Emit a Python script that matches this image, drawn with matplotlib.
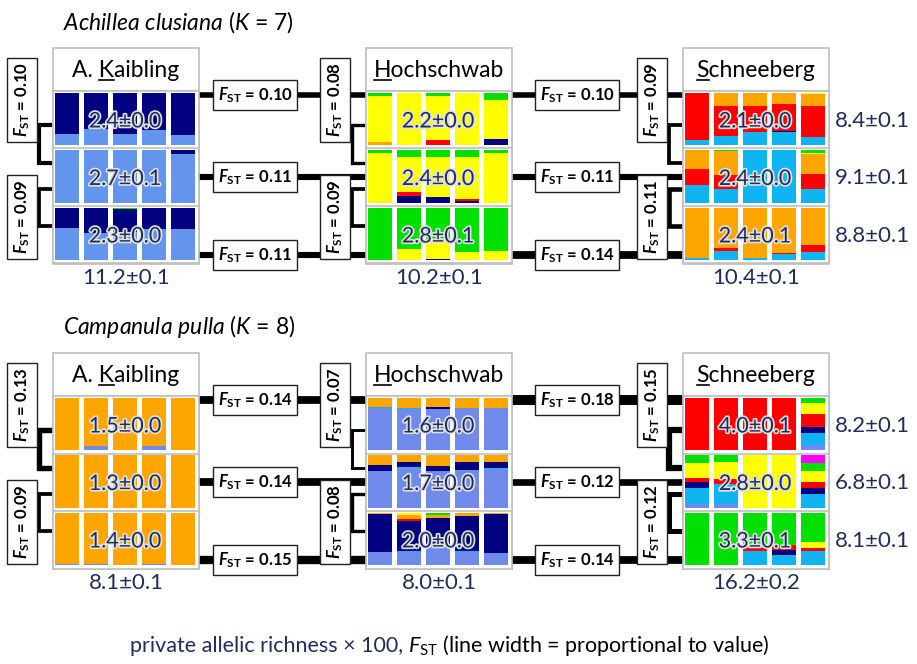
import numpy as np
import matplotlib.pyplot as plt
from matplotlib.patches import Rectangle
import matplotlib.patheffects as pe

plt.rcParams['font.family'] = ['Lato', 'DejaVu Sans']
plt.rcParams['mathtext.fontset'] = 'custom'
plt.rcParams['mathtext.rm'] = 'Lato'
plt.rcParams['mathtext.it'] = 'Lato:italic'
plt.rcParams['mathtext.bf'] = 'Lato:bold'
plt.rcParams['mathtext.bfit'] = 'Lato:italic:bold'

# ---- data -------------------------------------------------------------
sites = ['A. Kaibling', 'Hochschwab', 'Schneeberg']
site_key = [3, 0, 0]   # index of the underlined letter

# cluster colours, in stacking order from top to bottom of each bar
ach_colors = ['#00e000', '#ffff00', '#ffa500', '#ff0000', '#000080', '#10b4f0', '#6495ed']
cam_colors = ['#ff00ff', '#00e000', '#ffff00', '#ffa500', '#ff0000', '#000080', '#10b4f0', '#6f8aea']

# Achillea clusiana, K = 7 (rows = populations, 5 individuals each)
ach_kaibling = [
    [[0, 0, 0, 0, .79, 0, .21], [0, 0, 0, 0, .70, 0, .30], [0, 0, 0, 0, .79, 0, .21],
     [0, 0, 0, 0, .72, 0, .28], [0, 0, 0, 0, .80, 0, .20]],
    [[0, 0, 0, 0, 0, 0, 1], [0, 0, 0, 0, 0, 0, 1], [0, 0, 0, 0, 0, 0, 1],
     [0, 0, 0, 0, 0, 0, 1], [0, 0, 0, 0, .08, 0, .92]],
    [[0, 0, 0, 0, .38, 0, .62], [0, 0, 0, 0, .49, 0, .51], [.02, 0, 0, 0, .45, 0, .53],
     [0, 0, 0, 0, .40, 0, .60], [0, 0, 0, 0, .40, 0, .60]],
]
ach_hochschwab = [
    [[.07, .87, .06, 0, 0, 0, 0], [0, 1, 0, 0, 0, 0, 0], [.07, .83, 0, .10, 0, 0, 0],
     [0, 1, 0, 0, 0, 0, 0], [.14, .75, 0, 0, .11, 0, 0]],
    [[.06, .94, 0, 0, 0, 0, 0], [.12, .68, 0, .08, .12, 0, 0], [.12, .78, 0, 0, .10, 0, 0],
     [.12, .81, 0, .04, .03, 0, 0], [.06, .94, 0, 0, 0, 0, 0]],
    [[1, 0, 0, 0, 0, 0, 0], [.79, .21, 0, 0, 0, 0, 0], [.63, .35, 0, 0, .02, 0, 0],
     [.85, .15, 0, 0, 0, 0, 0], [.82, .18, 0, 0, 0, 0, 0]],
]
ach_schneeberg = [
    [[0, 0, 0, .90, 0, .10, 0], [0, 0, .26, .57, 0, .17, 0], [0, 0, .26, .50, 0, .24, 0],
     [0, 0, .21, .52, .02, .25, 0], [0, .02, .24, .59, 0, .15, 0]],
    [[0, 0, .36, .31, 0, .33, 0], [.02, 0, .46, .26, 0, .26, 0], [0, 0, 0, 0, 0, 1, 0],
     [0, 0, 0, 0, 0, 1, 0], [.05, .02, .38, .29, 0, .26, 0]],
    [[0, 0, .96, 0, 0, .04, 0], [0, 0, .77, .06, 0, .17, 0], [0, 0, .96, 0, 0, .04, 0],
     [0, 0, .87, .02, 0, .11, 0], [0, 0, .71, .13, 0, .16, 0]],
]

# Campanula pulla, K = 8
cam_kaibling = [
    [[0, 0, 0, 1, 0, 0, 0, 0], [0, 0, 0, .93, 0, 0, 0, .07], [0, 0, 0, 1, 0, 0, 0, 0],
     [0, 0, 0, .93, 0, 0, 0, .07], [0, 0, 0, 1, 0, 0, 0, 0]],
    [[0, 0, 0, 1, 0, 0, 0, 0], [0, 0, 0, 1, 0, 0, 0, 0], [0, 0, 0, 1, 0, 0, 0, 0],
     [0, 0, 0, 1, 0, 0, 0, 0], [0, 0, 0, 1, 0, 0, 0, 0]],
    [[0, 0, 0, .98, 0, 0, 0, .02], [0, 0, 0, .98, 0, 0, 0, .02], [0, 0, 0, 1, 0, 0, 0, 0],
     [0, 0, 0, .98, 0, 0, 0, .02], [0, 0, 0, 1, 0, 0, 0, 0]],
]
cam_hochschwab = [
    [[0, 0, 0, .18, 0, 0, .01, .81], [0, 0, 0, .20, 0, 0, .01, .79], [0, 0, 0, .17, 0, .04, 0, .79],
     [0, 0, 0, .20, 0, 0, 0, .80], [0, 0, 0, .20, 0, 0, 0, .80]],
    [[0, 0, 0, .18, 0, .12, .01, .69], [0, 0, 0, .13, 0, .10, .01, .76], [0, 0, 0, .20, 0, .10, 0, .70],
     [0, 0, 0, .13, 0, .15, .01, .71], [0, 0, 0, .13, 0, .12, .01, .74]],
    [[0, 0, 0, .02, 0, .73, 0, .25], [0, 0, .05, .07, .03, .58, .02, .25], [0, .05, 0, .05, 0, .54, 0, .36],
     [0, 0, 0, .06, 0, .67, .02, .25], [0, 0, 0, .02, 0, .75, 0, .23]],
]
cam_schneeberg = [
    [[0, 0, 0, 0, 1, 0, 0, 0], [0, 0, 0, 0, 1, 0, 0, 0], [0, 0, 0, 0, 1, 0, 0, 0],
     [0, 0, 0, 0, 1, 0, 0, 0], [0, .11, .20, 0, .25, .11, .23, .10]],
    [[0, .15, .28, 0, .09, .10, .31, .07], [0, .12, .33, 0, .10, 0, .39, .06], [0, 0, 1, 0, 0, 0, 0, 0],
     [0, 0, 1, 0, 0, 0, 0, 0], [.15, .16, .20, 0, .12, .11, .26, 0]],
    [[0, 1, 0, 0, 0, 0, 0, 0], [0, 1, 0, 0, 0, 0, 0, 0], [0, .67, 0, 0, .07, 0, .26, 0],
     [0, .62, 0, 0, .10, .08, .20, 0], [0, .56, .12, 0, .06, 0, .26, 0]],
]

# private allelic richness x 100 (population rows, site totals, population totals)
ach_row_mean = [[2.4, 2.7, 2.3], [2.2, 2.4, 2.8], [2.1, 2.4, 2.4]]
ach_row_sd = [[0.0, 0.1, 0.0], [0.0, 0.0, 0.1], [0.0, 0.0, 0.1]]
ach_site_mean = [11.2, 10.2, 10.4]
ach_site_sd = [0.1, 0.1, 0.1]
ach_pop_mean = [8.4, 9.1, 8.8]
ach_pop_sd = [0.1, 0.1, 0.1]
cam_row_mean = [[1.5, 1.3, 1.4], [1.6, 1.7, 2.0], [4.0, 2.8, 3.3]]
cam_row_sd = [[0.0, 0.0, 0.0], [0.0, 0.0, 0.0], [0.1, 0.0, 0.1]]
cam_site_mean = [8.1, 8.0, 16.2]
cam_site_sd = [0.1, 0.1, 0.2]
cam_pop_mean = [8.2, 6.8, 8.1]
cam_pop_sd = [0.1, 0.1, 0.1]

# FST between sites (per elevation row) and between rows within a site
ach_fst_sites = [[0.10, 0.11, 0.11], [0.10, 0.11, 0.14]]
ach_fst_rows = [[0.10, 0.09], [0.08, 0.09], [0.09, 0.11]]
cam_fst_sites = [[0.14, 0.14, 0.15], [0.18, 0.12, 0.14]]
cam_fst_rows = [[0.13, 0.09], [0.07, 0.08], [0.15, 0.12]]

species = [
    dict(title=r'$\mathit{Achillea\ clusiana}$ ($\mathit{K}$ = 7)', colors=ach_colors,
         panels=[ach_kaibling, ach_hochschwab, ach_schneeberg],
         row_mean=ach_row_mean, row_sd=ach_row_sd, site_mean=ach_site_mean, site_sd=ach_site_sd,
         pop_mean=ach_pop_mean, pop_sd=ach_pop_sd, fst_sites=ach_fst_sites, fst_rows=ach_fst_rows),
    dict(title=r'$\mathit{Campanula\ pulla}$ ($\mathit{K}$ = 8)', colors=cam_colors,
         panels=[cam_kaibling, cam_hochschwab, cam_schneeberg],
         row_mean=cam_row_mean, row_sd=cam_row_sd, site_mean=cam_site_mean, site_sd=cam_site_sd,
         pop_mean=cam_pop_mean, pop_sd=cam_pop_sd, fst_sites=cam_fst_sites, fst_rows=cam_fst_rows),
]

# ---- layout (pixels) --------------------------------------------------
W, H = 917, 664
PANEL_X = [53, 366, 683]
PANEL_W = 146
BOX_TOP, ROWS_TOP, ROW_H = 48, 91, 57.5
LINE_Y = [95, 177, 255]
LABEL_X = [255, 577]
BRACKETS = [(125, 163), (189, 226)]
VLABEL_Y = [100, 217]
SECTION = 305
NAVY_TXT = '#1f2d5a'
FST_SIZE = 12

fig = plt.figure(figsize=(W / 100, H / 100), dpi=100)
ax = fig.add_axes([0, 0, 1, 1], zorder=0)
ax.set_xlim(0, W)
ax.set_ylim(H, 0)
ax.axis('off')
renderer = fig.canvas.get_renderer()


def text_width(s, **kw):
    t = ax.text(0, 0, s, **kw)
    w = t.get_window_extent(renderer).width
    t.remove()
    return w


def fst_label(f):
    return r'$\mathbfit{F}_{\mathbf{ST}}$' + f' = {f:.2f}'


box = dict(boxstyle='square,pad=0.3', fc='white', ec='#222222', lw=1)

for s, sp in enumerate(species):
    off = s * SECTION
    ax.text(63, 22 + off, sp['title'], fontsize=16.5, va='center', ha='left')

    for p in range(3):
        x0 = PANEL_X[p]
        # panel frame and header
        ax.add_patch(Rectangle((x0, BOX_TOP + off), PANEL_W, ROWS_TOP + 3 * ROW_H - BOX_TOP,
                               fill=False, ec='#bfbfbf', lw=1.2))
        ax.plot([x0, x0 + PANEL_W], [ROWS_TOP + off] * 2, color='#bfbfbf', lw=1.2)
        name = sites[p]
        hx, hy = x0 + PANEL_W / 2, 77 + off
        t = ax.text(hx, hy, name, fontsize=16.5, ha='center', va='baseline')
        bb = t.get_window_extent(renderer)
        k = site_key[p]
        xe = bb.x0 + text_width(name[:k + 1], fontsize=16.5)
        xs = xe - text_width(name[k], fontsize=16.5)
        inv = ax.transData.inverted()
        ux0 = inv.transform((xs, 0))[0]
        ux1 = inv.transform((xe, 0))[0]
        ax.plot([ux0, ux1], [hy + 2.8] * 2, color='black', lw=1.2)

        # structure bar plots
        pax = fig.add_axes([x0 / W, 1 - (off + ROWS_TOP + 3 * ROW_H) / H, PANEL_W / W, 3 * ROW_H / H],
                           zorder=2)
        pax.set_xlim(-0.483, 4.55)
        pax.set_ylim(3, 0)
        pax.set_xticks([])
        pax.set_yticks([])
        for sp_name in pax.spines.values():
            sp_name.set_color('#bfbfbf')
            sp_name.set_linewidth(1.2)
        data = sp['panels'][p]
        for r in range(3):
            q = np.array(data[r], dtype=float)
            q = q / q.sum(axis=1, keepdims=True) * 0.91
            cum = np.full(5, r + 0.03)
            for c, col in enumerate(sp['colors']):
                pax.bar(np.arange(5), q[:, c], bottom=cum, width=0.83, color=col, linewidth=0)
                cum = cum + q[:, c]
            pax.text(2, r + 0.53, f"{sp['row_mean'][p][r]:.1f}±{sp['row_sd'][p][r]:.1f}",
                     ha='center', va='center', fontsize=15.5, color=NAVY_TXT,
                     path_effects=[pe.withStroke(linewidth=2.4, foreground='#e0e0e0')])
        for r in (1, 2):
            pax.axhline(r, color='#bfbfbf', lw=1.2)

        ax.text(hx, 278 + off, f"{sp['site_mean'][p]:.1f}±{sp['site_sd'][p]:.1f}",
                ha='center', va='center', fontsize=16, color=NAVY_TXT)

        # FST between rows within the site
        for j in range(2):
            f = sp['fst_rows'][p][j]
            y1, y2 = BRACKETS[j]
            ax.plot([x0 - 1, x0 - 14, x0 - 14, x0 - 1], [y1 + off, y1 + off, y2 + off, y2 + off],
                    color='black', lw=30 * f, solid_joinstyle='miter', solid_capstyle='butt', zorder=1)
            ax.text(x0 - 31, VLABEL_Y[j] + off, fst_label(f), rotation=90, ha='center', va='center',
                    fontsize=FST_SIZE, fontweight='bold', bbox=box, zorder=4)

    # FST between neighbouring sites
    for g in range(2):
        xa, xb = PANEL_X[g] + PANEL_W, PANEL_X[g + 1]
        for r in range(3):
            f = sp['fst_sites'][g][r]
            ax.plot([xa, xb], [LINE_Y[r] + off] * 2, color='black', lw=40 * f,
                    solid_capstyle='butt', zorder=1)
            ax.text(LABEL_X[g], LINE_Y[r] + off, fst_label(f), ha='center', va='center',
                    fontsize=FST_SIZE, fontweight='bold', bbox=box, zorder=3)

    # population totals on the right
    for r in range(3):
        ax.text(872, ROWS_TOP + ROW_H * (r + 0.5) + 1 + off,
                f"{sp['pop_mean'][r]:.1f}±{sp['pop_sd'][r]:.1f}",
                ha='center', va='center', fontsize=16, color=NAVY_TXT)

# footer
t1 = ax.text(130, 652, 'private allelic richness × 100,', fontsize=15.5, color=NAVY_TXT,
             ha='left', va='baseline')
bb = t1.get_window_extent(renderer)
x2 = ax.transData.inverted().transform((bb.x1, 0))[0] + 5
ax.text(x2, 652, r'$\mathit{F}_{\mathrm{ST}}$ (line width = proportional to value)', fontsize=15.5,
        color='black', ha='left', va='baseline')

fig.savefig('out.png', dpi=100, facecolor='white')
